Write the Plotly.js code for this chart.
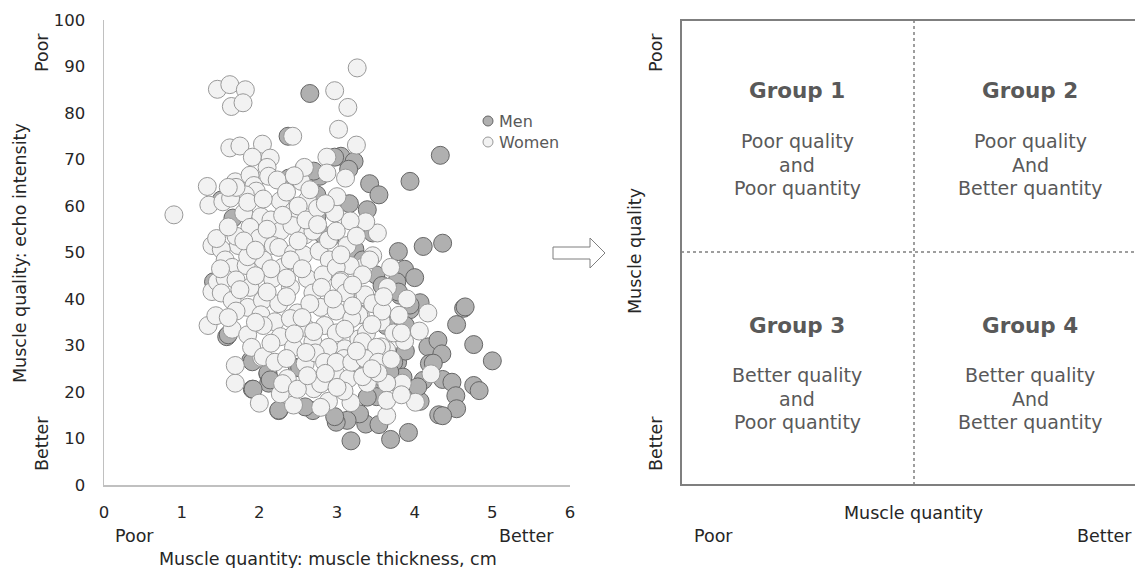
<!DOCTYPE html>
<html>
<head>
<meta charset="utf-8">
<script src="https://cdn.plot.ly/plotly-3.0.1.min.js"></script>
<style>html,body{margin:0;padding:0;background:#fff;}#chart{width:1135px;height:568px;}</style>
</head>
<body>
<div id="chart"></div>
<script>
// ---- data ----
const menX = [2.65,2.37,4.33,3.94,3.05,3.22,3.15,3.42,3.54,3.16,3.39,4.11,4.36,3.79,3.87,4.00,3.77,3.46,3.81,4.63,4.54,4.07,3.94,4.76,5.00,4.17,4.30,4.35,4.19,4.36,4.48,4.11,4.76,4.83,4.53,4.54,4.31,4.36,4.07,3.92,3.69,3.18,3.37,3.54,3.29,3.13,2.99,2.97,2.69,2.59,2.25,1.91,2.12,2.11,1.89,1.58,1.41,1.66,1.51,3.44,3.51,3.31,3.78,3.88,3.96,3.70,2.78,2.70,2.74,2.38,2.91,2.74,2.49,3.78,2.82,3.23,3.33,3.50,3.58,3.48,3.63,3.88,3.73,1.60,1.91,2.11,1.92,2.25,2.14,2.52,4.24,3.85,3.68,3.39,3.81,4.04,3.94,3.79,2.97,4.65];
const menY = [84.2,75.0,70.9,65.3,70.7,69.6,67.9,64.8,62.4,60.5,59.2,51.3,52.0,50.2,46.4,44.6,43.7,54.2,40.8,38.0,34.5,39.2,37.7,30.2,26.7,29.7,31.1,28.2,26.1,22.7,22.1,22.5,21.4,20.3,19.2,16.4,15.1,14.9,18.0,11.3,9.8,9.5,13.1,13.0,15.3,13.9,13.5,14.7,16.0,16.8,16.0,20.6,21.9,23.9,26.8,31.9,43.7,57.4,61.3,20.2,19.0,23.7,26.4,28.8,20.2,24.1,66.4,67.5,62.4,66.0,53.1,57.7,25.3,35.8,53.8,50.7,48.4,45.2,42.9,39.0,34.3,34.3,26.4,32.3,26.5,24.1,20.6,16.1,22.6,25.2,26.2,23.2,24.3,18.9,21.5,21.1,38.7,41.5,70.5,38.3];

const womenX = [0.90,1.46,1.62,1.82,1.64,1.79,3.26,2.97,3.14,3.02,3.25,2.43,1.62,1.75,2.04,1.91,2.14,1.33,1.35,1.53,2.87,2.87,3.11,2.57,2.54,3.52,3.37,3.17,2.97,3.46,3.69,3.65,4.17,4.06,3.87,3.64,4.21,3.84,3.64,4.01,3.64,3.64,3.39,3.18,2.89,2.79,2.44,2.00,2.27,2.36,1.69,1.69,2.03,1.34,1.44,1.39,1.39,1.73,2.99,3.15,2.70,3.10,3.28,3.57,3.57,3.34,3.30,3.35,3.42,3.17,
1.69,1.88,1.93,2.10,2.12,2.23,1.96,2.58,
1.82,2.27,2.44,2.62,1.80,2.02,2.15,1.88,2.27,1.85,1.63,1.70,1.60,
2.59,2.69,2.42,2.00,2.18,2.25,2.44,2.57,2.77,2.89,2.99,3.13,2.90,
1.51,1.56,1.65,1.83,2.05,1.70,1.85,2.30,2.40,2.62,2.82,2.99,3.05,3.33,
1.46,1.56,1.70,1.88,2.17,2.40,2.69,3.04,3.11,3.36,
1.51,1.65,1.85,2.04,2.25,2.49,2.79,2.99,3.28,3.46,3.58,
1.70,2.02,2.20,2.40,2.59,2.84,2.99,3.19,3.38,3.73,
1.65,1.85,2.05,2.27,2.44,2.69,2.89,3.09,3.33,3.51,3.83,
1.90,2.05,2.20,2.35,2.59,2.72,2.84,2.99,3.19,3.36,3.53,
2.30,2.49,2.79,3.09,3.33,3.53,3.83,
2.35,2.50,2.05,2.30,2.60,2.75,2.10,2.50,2.35,2.55,2.15,1.95,2.80,2.95,3.20,3.20,2.65,2.35,2.10,1.75,1.60,1.95,2.55,2.70,3.10,3.45,2.45,2.15,2.60,3.25,3.70,3.00,2.62,2.85,3.45,3.80,3.90,1.50,1.45,1.60,1.80,3.00,2.85,3.05,1.95,2.65,2.45,2.75,3.25,3.60];
const womenY = [58.1,85.1,86.1,85.0,81.4,82.2,89.7,84.8,81.2,76.5,73.1,75.0,72.5,72.9,73.3,70.5,70.3,64.2,60.2,60.9,70.5,67.1,66.0,67.9,65.3,54.2,56.6,56.8,58.5,49.3,46.8,42.5,37.0,33.1,30.9,29.0,23.9,21.9,21.9,17.8,14.9,18.2,21.9,17.7,18.0,16.7,17.2,17.6,19.6,22.9,21.9,25.7,27.4,34.3,36.4,41.6,51.5,51.5,23.7,22.9,20.7,29.3,31.4,35.1,29.7,40.5,36.6,47.0,48.4,47.2,
65.2,66.6,64.4,68.3,66.4,65.6,63.2,68.3,
62.4,61.1,58.9,61.3,58.5,57.7,57.0,55.4,54.6,60.8,61.7,64.0,64.0,
53.8,54.6,55.8,53.1,51.5,51.1,49.9,49.5,50.3,52.7,54.6,51.5,48.4,
50.7,48.4,46.8,47.2,48.4,53.5,49.1,46.8,48.4,44.4,45.2,46.8,44.0,45.2,
43.7,44.4,44.1,42.5,44.4,42.5,41.3,43.7,41.3,40.9,
41.3,39.7,38.2,39.7,39.0,37.0,38.2,37.4,36.6,39.0,37.4,
37.4,36.6,35.1,35.8,33.9,34.3,32.7,35.8,32.7,32.7,
33.5,32.3,34.3,31.9,29.6,30.8,29.6,27.2,30.8,29.6,32.7,
29.6,27.6,26.4,27.2,26.1,28.4,26.4,26.4,26.4,27.2,26.4,
21.8,20.6,21.8,20.2,23.3,24.1,19.4,
63.0,60.0,61.5,58.0,57.0,59.5,55.0,52.5,44.5,46.5,46.5,45.0,42.5,40.0,43.0,38.5,39.0,40.5,41.5,42.0,36.0,35.0,36.0,33.0,33.5,34.5,32.5,30.5,28.5,28.8,27.0,21.0,23.5,24.0,25.0,36.5,40.0,46.5,53.0,55.5,52.5,62.0,60.5,49.5,50.5,63.5,66.5,56.0,53.5,40.5];

const seriesNames = ["Men", "Women"];
const xTicks = [0,1,2,3,4,5,6];
const yTicks = [0,10,20,30,40,50,60,70,80,90,100];
const groupTitles = ["Group 1","Group 2","Group 3","Group 4"];
const groupLines = [
  ["Poor quality","and","Poor quantity"],
  ["Poor quality","And","Better quantity"],
  ["Better quality","and","Poor quantity"],
  ["Better quality","And","Better quantity"]
];

// ---- layout helpers ----
const W = 1135, H = 568;
const px = v => v / W;
const py = v => 1 - v / H;
const FONT = "DejaVu Sans, Verdana, sans-serif";
const menFill = "#b0b0b0", menLine = "#666666";
const womenFill = "#f2f2f2", womenLine = "#999999";

const traces = [
  {type:"scatter", mode:"markers", name:seriesNames[0], x:menX, y:menY, showlegend:false, cliponaxis:false,
   marker:{size:18, color:menFill, line:{color:menLine, width:1}}},
  {type:"scatter", mode:"markers", name:seriesNames[1], x:womenX, y:womenY, showlegend:false, cliponaxis:false,
   marker:{size:18, color:womenFill, line:{color:womenLine, width:1}}}
];

const ann = [];
function txt(t, x, y, size, color, opts) {
  ann.push(Object.assign({text:t, x:px(x), y:py(y), xref:"paper", yref:"paper", showarrow:false,
    xanchor:"center", yanchor:"middle", font:{family:FONT, size:size, color:color}}, opts || {}));
}
const LBL = 17.5, LC = "#262626";
// left panel labels
txt("Muscle quality: echo intensity", 20, 253, LBL, LC, {textangle:-90});
txt("Poor", 42, 53, LBL, LC, {textangle:-90});
txt("Better", 42, 444, LBL, LC, {textangle:-90});
txt("Poor", 134, 536, LBL, LC);
txt("Better", 526, 536, LBL, LC);
txt("Muscle quantity: muscle thickness, cm", 328, 559, LBL, LC);
// manual legend text
txt(seriesNames[0], 497, 121, 16, "#595959", {xanchor:"left"});
txt(seriesNames[1], 497, 142, 16, "#595959", {xanchor:"left"});

// right panel labels
txt("Muscle quality", 635, 251, LBL, LC, {textangle:-90});
txt("Poor", 656, 53, LBL, LC, {textangle:-90});
txt("Better", 656, 444, LBL, LC, {textangle:-90});
txt("Muscle quantity", 913, 513, LBL, LC);
txt("Poor", 713, 536, LBL, LC);
txt("Better", 1104, 536, LBL, LC);

const qx = [797, 1030, 797, 1030];
const qTitleY = [91, 91, 325, 325];
const qLineY0 = [141, 141, 375, 375];
for (let i = 0; i < 4; i++) {
  txt("<b>" + groupTitles[i] + "</b>", qx[i], qTitleY[i], 21.5, "#595959");
  groupLines[i].forEach((l, j) => txt(l, qx[i], qLineY0[i] + j * 23.5, 19, "#595959"));
}

const gray = "#7f7f7f";
const shapes = [
  // quadrant box
  {type:"rect", xref:"paper", yref:"paper", x0:px(681), x1:px(1146), y0:py(485), y1:py(20), line:{color:gray, width:2}},
  {type:"line", xref:"paper", yref:"paper", x0:px(914), x1:px(914), y0:py(485), y1:py(20), line:{color:gray, width:1.5, dash:"dot"}},
  {type:"line", xref:"paper", yref:"paper", x0:px(681), x1:px(1146), y0:py(252), y1:py(252), line:{color:gray, width:1.5, dash:"dot"}},
  // outline block arrow
  {type:"path", xref:"paper", yref:"paper", fillcolor:"#ffffff", line:{color:gray, width:1},
   path:"M"+px(553)+","+py(247)+" L"+px(590)+","+py(247)+" L"+px(590)+","+py(238)+" L"+px(605)+","+py(253)+" L"+px(590)+","+py(268)+" L"+px(590)+","+py(259)+" L"+px(553)+","+py(259)+" Z"},
  // legend glyphs
  {type:"circle", xref:"paper", yref:"paper", x0:px(483), x1:px(493), y0:py(116), y1:py(126), fillcolor:menFill, line:{color:menLine, width:1}},
  {type:"circle", xref:"paper", yref:"paper", x0:px(483), x1:px(493), y0:py(137), y1:py(147), fillcolor:womenFill, line:{color:womenLine, width:1}}
];

const layout = {
  width:W, height:H, margin:{l:0, r:0, t:0, b:0},
  paper_bgcolor:"#ffffff", plot_bgcolor:"rgba(0,0,0,0)",
  showlegend:false,
  font:{family:FONT, color:LC},
  xaxis:{domain:[px(104), px(570)], range:[0,6], tickvals:xTicks, ticks:"", showgrid:false, zeroline:false,
         showline:true, linecolor:"#c0c0c0", linewidth:1.5, tickfont:{family:FONT, size:16.5, color:LC},
         ticklabelstandoff:12, fixedrange:true},
  yaxis:{domain:[py(485), py(20)], range:[0,100], tickvals:yTicks, ticks:"", showgrid:false, zeroline:false,
         showline:true, linecolor:"#c0c0c0", linewidth:1.5, tickfont:{family:FONT, size:16.5, color:LC},
         ticklabelstandoff:14, fixedrange:true},
  annotations:ann,
  shapes:shapes
};

Plotly.newPlot("chart", traces, layout, {staticPlot:true, displayModeBar:false});
</script>
</body>
</html>
